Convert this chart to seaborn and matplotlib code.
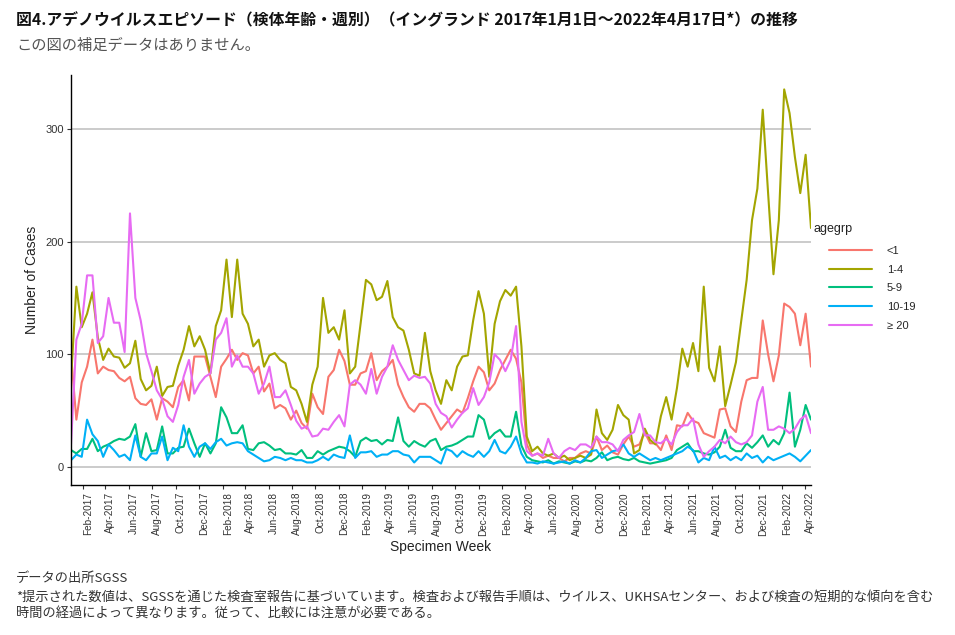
import matplotlib
matplotlib.use("Agg")
import matplotlib.pyplot as plt
import matplotlib.dates as mdates
import numpy as np
import pandas as pd
import seaborn as sns

# ---------------- data (fortnightly) ----------------
start_date = "2017-01-01"
n_points = 139
age_groups = ["<1", "1-4", "5-9", "10-19", "\u2265 20"]
colors = ["#F8766D", "#A3A500", "#00BF7D", "#00B0F6", "#E76BF3"]

lt1 = [100, 42, 75, 89, 113, 83, 89, 86, 85, 79,
       76, 80, 61, 56, 55, 60, 42, 61, 58, 53,
       71, 77, 59, 98, 98, 98, 80, 62, 89, 96,
       104, 95, 101, 99, 83, 89, 67, 74, 52, 55,
       52, 42, 50, 39, 34, 65, 53, 47, 80, 86,
       104, 94, 73, 73, 83, 85, 101, 77, 85, 89,
       95, 73, 62, 53, 49, 56, 56, 52, 42, 33,
       39, 45, 51, 48, 61, 76, 89, 84, 68, 74,
       86, 95, 104, 96, 75, 20, 10, 12, 8, 10,
       8, 8, 5, 8, 8, 12, 14, 12, 27, 15,
       19, 13, 11, 20, 27, 18, 20, 31, 21, 21,
       15, 28, 15, 37, 36, 48, 41, 39, 30, 28,
       26, 51, 52, 36, 31, 58, 77, 79, 79, 130,
       100, 76, 99, 145, 142, 136, 108, 136, 89]

age1_4 = [77, 160, 124, 136, 155, 115, 95, 105, 98, 97,
          88, 92, 112, 78, 68, 72, 89, 63, 71, 72,
          90, 104, 125, 107, 116, 104, 83, 125, 139, 184,
          133, 184, 136, 127, 107, 113, 89, 99, 101, 95,
          92, 71, 68, 56, 40, 73, 89, 150, 119, 124,
          113, 139, 83, 89, 127, 166, 162, 148, 151, 165,
          133, 124, 121, 104, 83, 81, 119, 85, 68, 56,
          77, 68, 89, 98, 99, 130, 156, 136, 80, 127,
          147, 157, 152, 160, 107, 27, 14, 18, 12, 10,
          12, 8, 10, 6, 8, 10, 8, 11, 51, 30,
          24, 33, 55, 46, 42, 12, 15, 34, 24, 20,
          45, 62, 42, 70, 105, 89, 110, 85, 160, 88,
          76, 107, 54, 73, 93, 130, 166, 219, 247, 317,
          243, 171, 219, 335, 314, 275, 243, 277, 212]

age5_9 = [15, 12, 16, 16, 25, 14, 18, 20, 23, 25,
          24, 27, 38, 9, 30, 14, 15, 36, 12, 12,
          17, 18, 34, 21, 9, 21, 12, 21, 53, 44,
          30, 30, 37, 16, 15, 21, 22, 19, 15, 16,
          12, 12, 11, 15, 8, 8, 14, 11, 14, 16,
          18, 17, 14, 9, 23, 26, 23, 24, 20, 24,
          23, 44, 23, 18, 23, 20, 18, 23, 25, 15,
          18, 19, 21, 24, 27, 27, 46, 42, 25, 30,
          33, 27, 27, 49, 19, 9, 6, 5, 4, 6,
          3, 5, 4, 3, 5, 4, 6, 5, 8, 13,
          6, 8, 9, 7, 6, 8, 5, 4, 3, 4,
          5, 6, 8, 15, 18, 21, 14, 14, 12, 11,
          13, 18, 33, 17, 14, 14, 21, 17, 22, 28,
          18, 24, 20, 30, 66, 18, 33, 55, 42]

age10_19 = [6, 11, 9, 42, 29, 23, 9, 20, 15, 9,
            11, 6, 28, 9, 6, 12, 12, 27, 6, 17,
            14, 37, 18, 9, 18, 21, 16, 22, 25, 19,
            21, 22, 21, 14, 11, 8, 5, 6, 9, 8,
            6, 8, 6, 6, 4, 4, 6, 9, 6, 11,
            9, 8, 28, 8, 13, 13, 14, 9, 11, 11,
            14, 14, 11, 10, 4, 9, 9, 9, 6, 3,
            16, 14, 9, 14, 11, 9, 14, 9, 14, 24,
            14, 12, 18, 27, 12, 4, 4, 3, 5, 4,
            3, 4, 5, 3, 6, 4, 8, 14, 15, 8,
            11, 14, 15, 20, 12, 9, 12, 9, 6, 8,
            6, 8, 10, 12, 14, 18, 15, 4, 8, 6,
            18, 8, 10, 6, 9, 6, 12, 8, 10, 4,
            9, 6, 8, 10, 12, 9, 5, 10, 15]

age20plus = [20, 113, 127, 170, 170, 110, 116, 150, 128, 128,
             102, 225, 150, 130, 101, 85, 68, 60, 45, 40,
             55, 80, 95, 65, 74, 80, 83, 113, 119, 132,
             89, 99, 89, 89, 83, 65, 74, 89, 62, 62,
             68, 55, 41, 34, 36, 27, 28, 34, 33, 40,
             46, 36, 73, 77, 73, 65, 87, 65, 80, 89,
             108, 95, 86, 77, 81, 79, 80, 74, 56, 48,
             45, 35, 42, 48, 52, 70, 55, 62, 75, 100,
             95, 85, 95, 125, 40, 14, 10, 12, 10, 25,
             12, 8, 14, 17, 15, 20, 20, 17, 27, 22,
             22, 20, 14, 24, 28, 31, 47, 28, 28, 22,
             21, 25, 20, 31, 37, 37, 43, 20, 9, 14,
             18, 24, 21, 27, 22, 20, 22, 28, 58, 71,
             33, 33, 36, 34, 30, 34, 42, 46, 30]

y_ticks = [0, 100, 200, 300]
tick_start, tick_end = "2017-02-01", "2022-04-01"

title = ("図4.アデノウイルスエピソード（検体年齢・週別）（イングランド 2017年1月1日～"
         "2022年4月17日*）の推移")
subtitle = "この図の補足データはありません。"
footer1 = "データの出所SGSS"
footer2 = ("*提示された数値は、SGSSを通じた検査室報告に基づいています。検査および報告手順は、"
           "ウイルス、UKHSAセンター、および検査の短期的な傾向を含む")
footer3 = "時間の経過によって異なります。従って、比較には注意が必要である。"

# ---------------- build table ----------------
dates = pd.date_range(start_date, periods=n_points, freq="14D")
series = [lt1, age1_4, age5_9, age10_19, age20plus]
df = pd.concat([pd.DataFrame({"date": dates, "cases": vals, "agegrp": g})
                for g, vals in zip(age_groups, series)], ignore_index=True)

# ---------------- figure ----------------
sns.set_style("white")
plt.rcParams["font.family"] = ["Liberation Sans", "Noto Sans CJK JP", "DejaVu Sans"]
cjk = ["Noto Sans CJK JP", "DejaVu Sans"]

W, H = 955, 635
fig = plt.figure(figsize=(W / 100, H / 100), dpi=100)
L, R, T, B = 71, 811, 75, 485
ax = fig.add_axes([L / W, 1 - B / H, (R - L) / W, (B - T) / H])

sns.lineplot(data=df, x="date", y="cases", hue="agegrp", hue_order=age_groups,
             palette=colors, linewidth=1.5, ax=ax, legend=True)

handles, labels = ax.get_legend_handles_labels()
ax.get_legend().remove()

ax.set_xlim(dates[0], dates[-1])
ax.set_ylim(-16.0, 347.8)
ax.set_yticks(y_ticks)
ax.yaxis.grid(True, color="#bdbdbd", linewidth=1.1)
ax.xaxis.grid(False)
ax.set_axisbelow(True)
for s in ["top", "right"]:
    ax.spines[s].set_visible(False)
for s in ["left", "bottom"]:
    ax.spines[s].set_color("black")
    ax.spines[s].set_linewidth(1.0)

xt = pd.date_range(tick_start, tick_end, freq="2MS")
ax.set_xticks(xt)
ax.xaxis.set_major_formatter(mdates.DateFormatter("%b-%Y"))
ax.tick_params(axis="both", which="major", length=3, width=0.8, color="#333333",
               labelcolor="#333333", pad=2, left=True, bottom=True)
ax.tick_params(axis="x", labelsize=7.2)
ax.tick_params(axis="y", labelsize=8)
for lab in ax.get_xticklabels():
    lab.set_rotation(90)
    lab.set_ha("left")
    lab.set_va("top")

ax.set_xlabel("Specimen Week", fontsize=10, color="#222222")
ax.set_ylabel("Number of Cases", fontsize=10, color="#222222")
ax.xaxis.set_label_coords(0.5, -0.135)
ax.yaxis.set_label_coords(-0.043, 0.5)

leg = fig.legend(handles, labels, loc="upper left",
                 bbox_to_anchor=(829 / W, 1 - 246 / H), frameon=False,
                 fontsize=8, handlelength=3.9, handletextpad=1.3,
                 labelspacing=0.78, borderpad=0, borderaxespad=0)
for line in leg.get_lines():
    line.set_linewidth(1.5)
fig.text(813 / W, 1 - 229 / H, "agegrp", fontsize=9, va="center", ha="left",
         color="#222222")

fig.text(16 / W, 1 - 20 / H, title, fontsize=11.4, fontweight="bold",
         family=cjk, va="center", ha="left", color="#111111")
fig.text(16 / W, 1 - 45 / H, subtitle, fontsize=11, family=cjk,
         va="center", ha="left", color="#555555")
fig.text(16 / W, 1 - 578 / H, footer1, fontsize=9.5, family=cjk,
         va="center", ha="left", color="#333333")
fig.text(16 / W, 1 - 597 / H, footer2, fontsize=9.5, family=cjk,
         va="center", ha="left", color="#333333")
fig.text(16 / W, 1 - 614 / H, footer3, fontsize=9.5, family=cjk,
         va="center", ha="left", color="#333333")

fig.savefig("out.png", dpi=100, facecolor="white")
